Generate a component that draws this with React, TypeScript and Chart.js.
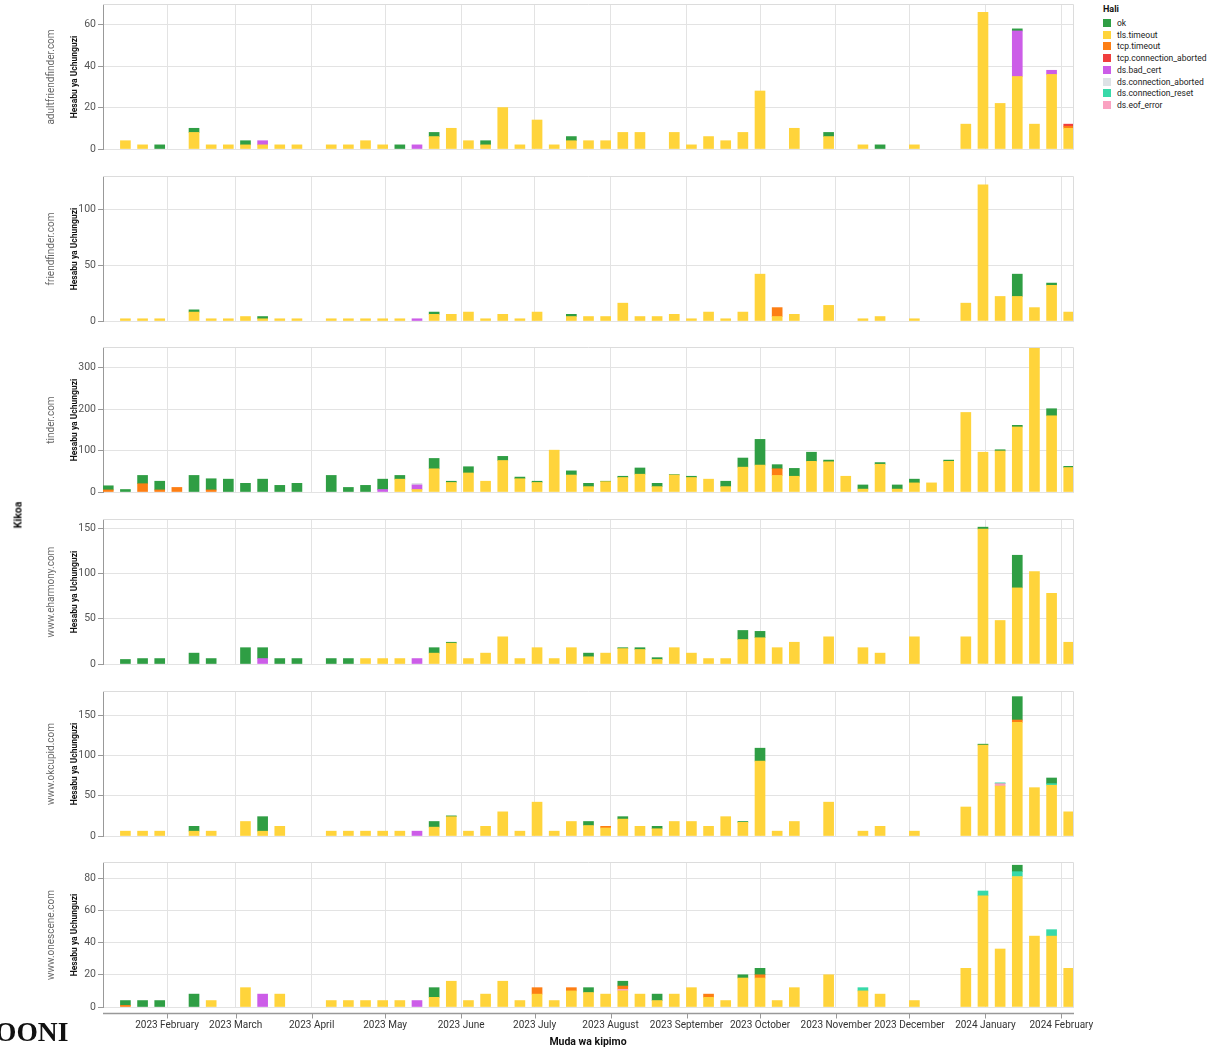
import React, { useEffect, useRef } from "react";
import { Chart, registerables } from "chart.js";

Chart.register(...registerables);

// ---------- categories ----------
const weeks = [
  "2023-01-08", "2023-01-15", "2023-01-22", "2023-01-29", "2023-02-05", "2023-02-12", "2023-02-19", "2023-02-26", "2023-03-05", "2023-03-12",
  "2023-03-19", "2023-03-26", "2023-04-02", "2023-04-09", "2023-04-16", "2023-04-23", "2023-04-30", "2023-05-07", "2023-05-14", "2023-05-21",
  "2023-05-28", "2023-06-04", "2023-06-11", "2023-06-18", "2023-06-25", "2023-07-02", "2023-07-09", "2023-07-16", "2023-07-23", "2023-07-30",
  "2023-08-06", "2023-08-13", "2023-08-20", "2023-08-27", "2023-09-03", "2023-09-10", "2023-09-17", "2023-09-24", "2023-10-01", "2023-10-08",
  "2023-10-15", "2023-10-22", "2023-10-29", "2023-11-05", "2023-11-12", "2023-11-19", "2023-11-26", "2023-12-03", "2023-12-10", "2023-12-17",
  "2023-12-24", "2023-12-31", "2024-01-07", "2024-01-14", "2024-01-21", "2024-01-28", "2024-02-04",
];

const monthTicks = [
  "2023-02-01", "2023-03-01", "2023-04-01", "2023-05-01", "2023-06-01", "2023-07-01", "2023-08-01",
  "2023-09-01", "2023-10-01", "2023-11-01", "2023-12-01", "2024-01-01", "2024-02-01",
];
const monthLabels = [
  "2023 February", "2023 March", "2023 April", "2023 May", "2023 June", "2023 July", "2023 August",
  "2023 September", "2023 October", "2023 November", "2023 December", "2024 January", "2024 February",
];

const domains = ["adultfriendfinder.com", "friendfinder.com", "tinder.com", "www.eharmony.com", "www.okcupid.com", "www.onescene.com"];
const yMax = [70, 130, 350, 160, 180, 90];
const yStep = [20, 50, 100, 50, 50, 20];

const statuses = ["ok", "tls.timeout", "tcp.timeout", "tcp.connection_aborted", "ds.bad_cert", "ds.connection_aborted", "ds.connection_reset", "ds.eof_error"];
const statusColors = ["#2f9e44", "#ffd43b", "#fd7e14", "#f03e3e", "#cc5de8", "#dee2e6", "#38d9a9", "#faa2c1"];
const stackOrder = ["tls.timeout", "ds.eof_error", "tcp.timeout", "tcp.connection_aborted", "ds.bad_cert", "ds.connection_aborted", "ds.connection_reset", "ok"];

// ---------- adultfriendfinder.com ----------
const afOk = [
  0, 0, 0, 2, 0, 2, 0, 0, 2, 0,
  0, 0, 0, 0, 0, 0, 0, 2, 0, 2,
  0, 0, 2, 0, 0, 0, 0, 2, 0, 0,
  0, 0, 0, 0, 0, 0, 0, 0, 0, 0,
  0, 0, 2, 0, 0, 2, 0, 0, 0, 0,
  0, 0, 0, 1, 0, 0, 0,
];
const afTls = [
  0, 4, 2, 0, 0, 8, 2, 2, 2, 2,
  2, 2, 0, 2, 2, 4, 2, 0, 0, 6,
  10, 4, 2, 20, 2, 14, 2, 4, 4, 4,
  8, 8, 0, 8, 2, 6, 4, 8, 28, 0,
  10, 0, 6, 0, 2, 0, 0, 2, 0, 0,
  12, 66, 22, 35, 12, 36, 10,
];
const afBadCert = [
  0, 0, 0, 0, 0, 0, 0, 0, 0, 2,
  0, 0, 0, 0, 0, 0, 0, 0, 2, 0,
  0, 0, 0, 0, 0, 0, 0, 0, 0, 0,
  0, 0, 0, 0, 0, 0, 0, 0, 0, 0,
  0, 0, 0, 0, 0, 0, 0, 0, 0, 0,
  0, 0, 0, 22, 0, 2, 0,
];
const afTcpTimeout = [
  0, 0, 0, 0, 0, 0, 0, 0, 0, 0,
  0, 0, 0, 0, 0, 0, 0, 0, 0, 0,
  0, 0, 0, 0, 0, 0, 0, 0, 0, 0,
  0, 0, 0, 0, 0, 0, 0, 0, 0, 0,
  0, 0, 0, 0, 0, 0, 0, 0, 0, 0,
  0, 0, 0, 0, 0, 0, 1,
];
const afTcpAborted = [
  0, 0, 0, 0, 0, 0, 0, 0, 0, 0,
  0, 0, 0, 0, 0, 0, 0, 0, 0, 0,
  0, 0, 0, 0, 0, 0, 0, 0, 0, 0,
  0, 0, 0, 0, 0, 0, 0, 0, 0, 0,
  0, 0, 0, 0, 0, 0, 0, 0, 0, 0,
  0, 0, 0, 0, 0, 0, 1,
];

// ---------- friendfinder.com ----------
const ffOk = [
  0, 0, 0, 0, 0, 2, 0, 0, 0, 2,
  0, 0, 0, 0, 0, 0, 0, 0, 0, 2,
  0, 0, 0, 0, 0, 0, 0, 2, 0, 0,
  0, 0, 0, 0, 0, 0, 0, 0, 0, 0,
  0, 0, 0, 0, 0, 0, 0, 0, 0, 0,
  0, 0, 0, 20, 0, 2, 0,
];
const ffTls = [
  0, 2, 2, 2, 0, 8, 2, 2, 4, 2,
  2, 2, 0, 2, 2, 2, 2, 2, 0, 6,
  6, 8, 2, 6, 2, 8, 0, 4, 4, 4,
  16, 4, 4, 6, 2, 8, 2, 8, 42, 4,
  6, 0, 14, 0, 2, 4, 0, 2, 0, 0,
  16, 122, 22, 22, 12, 32, 8,
];
const ffBadCert = [
  0, 0, 0, 0, 0, 0, 0, 0, 0, 0,
  0, 0, 0, 0, 0, 0, 0, 0, 2, 0,
  0, 0, 0, 0, 0, 0, 0, 0, 0, 0,
  0, 0, 0, 0, 0, 0, 0, 0, 0, 0,
  0, 0, 0, 0, 0, 0, 0, 0, 0, 0,
  0, 0, 0, 0, 0, 0, 0,
];
const ffTcpTimeout = [
  0, 0, 0, 0, 0, 0, 0, 0, 0, 0,
  0, 0, 0, 0, 0, 0, 0, 0, 0, 0,
  0, 0, 0, 0, 0, 0, 0, 0, 0, 0,
  0, 0, 0, 0, 0, 0, 0, 0, 0, 8,
  0, 0, 0, 0, 0, 0, 0, 0, 0, 0,
  0, 0, 0, 0, 0, 0, 0,
];

// ---------- tinder.com ----------
const tiOk = [
  10, 6, 20, 21, 0, 40, 27, 31, 21, 31,
  16, 21, 0, 40, 11, 16, 25, 9, 0, 25,
  3, 15, 0, 10, 4, 3, 0, 10, 8, 1,
  3, 15, 8, 1, 3, 0, 13, 22, 62, 10,
  19, 22, 4, 0, 10, 4, 10, 9, 0, 3,
  0, 0, 3, 4, 3, 17, 3,
];
const tiTls = [
  0, 0, 0, 0, 0, 0, 0, 0, 0, 0,
  0, 0, 0, 0, 0, 0, 0, 31, 6, 56,
  23, 46, 26, 76, 32, 23, 101, 41, 13, 25,
  35, 43, 13, 41, 35, 31, 13, 60, 65, 40,
  38, 74, 73, 38, 7, 67, 7, 22, 22, 74,
  192, 96, 99, 157, 348, 184, 59,
];
const tiTcpTimeout = [
  5, 0, 20, 5, 11, 0, 5, 0, 0, 0,
  0, 0, 0, 0, 0, 0, 0, 0, 0, 0,
  0, 0, 0, 0, 0, 0, 0, 0, 0, 0,
  0, 0, 0, 0, 0, 0, 0, 0, 0, 16,
  0, 0, 0, 0, 0, 0, 0, 0, 0, 0,
  0, 0, 0, 0, 0, 0, 0,
];
const tiBadCert = [
  0, 0, 0, 0, 0, 0, 0, 0, 0, 0,
  0, 0, 0, 0, 0, 0, 6, 0, 11, 0,
  0, 0, 0, 0, 0, 0, 0, 0, 0, 0,
  0, 0, 0, 0, 0, 0, 0, 0, 0, 0,
  0, 0, 0, 0, 0, 0, 0, 0, 0, 0,
  0, 0, 0, 0, 0, 0, 0,
];
const tiDsAborted = [
  0, 0, 0, 0, 0, 0, 0, 0, 0, 0,
  0, 0, 0, 0, 0, 0, 0, 0, 4, 0,
  0, 0, 0, 0, 0, 0, 0, 0, 0, 0,
  0, 0, 0, 0, 0, 0, 0, 0, 0, 0,
  0, 0, 0, 0, 0, 0, 0, 0, 0, 0,
  0, 0, 0, 0, 0, 0, 0,
];

// ---------- www.eharmony.com ----------
const ehOk = [
  0, 5, 6, 6, 0, 12, 6, 0, 18, 12,
  6, 6, 0, 6, 6, 0, 0, 0, 0, 6,
  1, 0, 0, 0, 0, 0, 0, 0, 4, 0,
  1, 2, 2, 0, 0, 0, 0, 10, 7, 0,
  0, 0, 0, 0, 0, 0, 0, 0, 0, 0,
  0, 2, 0, 36, 0, 0, 0,
];
const ehTls = [
  0, 0, 0, 0, 0, 0, 0, 0, 0, 0,
  0, 0, 0, 0, 0, 6, 6, 6, 0, 12,
  23, 6, 12, 30, 6, 18, 6, 18, 8, 12,
  17, 16, 5, 18, 12, 6, 6, 27, 29, 18,
  24, 0, 30, 0, 18, 12, 0, 30, 0, 0,
  30, 149, 48, 84, 102, 78, 24,
];
const ehBadCert = [
  0, 0, 0, 0, 0, 0, 0, 0, 0, 6,
  0, 0, 0, 0, 0, 0, 0, 0, 6, 0,
  0, 0, 0, 0, 0, 0, 0, 0, 0, 0,
  0, 0, 0, 0, 0, 0, 0, 0, 0, 0,
  0, 0, 0, 0, 0, 0, 0, 0, 0, 0,
  0, 0, 0, 0, 0, 0, 0,
];

// ---------- www.okcupid.com ----------
const okOk = [
  0, 0, 0, 0, 0, 6, 0, 0, 0, 18,
  0, 0, 0, 0, 0, 0, 0, 0, 0, 7,
  1, 0, 0, 0, 0, 0, 0, 0, 5, 0,
  3, 0, 3, 0, 0, 0, 0, 1, 16, 0,
  0, 0, 0, 0, 0, 0, 0, 0, 0, 0,
  0, 1, 0, 29, 0, 7, 0,
];
const okTls = [
  0, 6, 6, 6, 0, 6, 6, 0, 18, 6,
  12, 0, 0, 6, 6, 6, 6, 6, 0, 11,
  24, 6, 12, 30, 6, 42, 6, 18, 13, 10,
  21, 12, 9, 18, 18, 12, 24, 17, 93, 6,
  18, 0, 42, 0, 6, 12, 0, 6, 0, 0,
  36, 113, 62, 141, 60, 63, 30,
];
const okTcpTimeout = [
  0, 0, 0, 0, 0, 0, 0, 0, 0, 0,
  0, 0, 0, 0, 0, 0, 0, 0, 0, 0,
  0, 0, 0, 0, 0, 0, 0, 0, 0, 2,
  0, 0, 0, 0, 0, 0, 0, 0, 0, 0,
  0, 0, 0, 0, 0, 0, 0, 0, 0, 0,
  0, 0, 0, 3, 0, 0, 0,
];
const okBadCert = [
  0, 0, 0, 0, 0, 0, 0, 0, 0, 0,
  0, 0, 0, 0, 0, 0, 0, 0, 6, 0,
  0, 0, 0, 0, 0, 0, 0, 0, 0, 0,
  0, 0, 0, 0, 0, 0, 0, 0, 0, 0,
  0, 0, 0, 0, 0, 0, 0, 0, 0, 0,
  0, 0, 0, 0, 0, 0, 0,
];
const okDsReset = [
  0, 0, 0, 0, 0, 0, 0, 0, 0, 0,
  0, 0, 0, 0, 0, 0, 0, 0, 0, 0,
  0, 0, 0, 0, 0, 0, 0, 0, 0, 0,
  0, 0, 0, 0, 0, 0, 0, 0, 0, 0,
  0, 0, 0, 0, 0, 0, 0, 0, 0, 0,
  0, 0, 1, 0, 0, 2, 0,
];
const okEof = [
  0, 0, 0, 0, 0, 0, 0, 0, 0, 0,
  0, 0, 0, 0, 0, 0, 0, 0, 0, 0,
  0, 0, 0, 0, 0, 0, 0, 0, 0, 0,
  0, 0, 0, 0, 0, 0, 0, 0, 0, 0,
  0, 0, 0, 0, 0, 0, 0, 0, 0, 0,
  0, 0, 3, 0, 0, 0, 0,
];

// ---------- www.onescene.com ----------
const osOk = [
  0, 3, 4, 4, 0, 8, 0, 0, 0, 0,
  0, 0, 0, 0, 0, 0, 0, 0, 0, 6,
  0, 0, 0, 0, 0, 0, 0, 0, 3, 0,
  3, 0, 4, 0, 0, 0, 0, 2, 4, 0,
  0, 0, 0, 0, 0, 0, 0, 0, 0, 0,
  0, 0, 0, 4, 0, 0, 0,
];
const osTls = [
  0, 0, 0, 0, 0, 0, 4, 0, 12, 0,
  8, 0, 0, 4, 4, 4, 4, 4, 0, 6,
  16, 4, 8, 16, 4, 8, 4, 10, 9, 8,
  10, 8, 4, 8, 12, 6, 4, 18, 18, 4,
  12, 0, 20, 0, 10, 8, 0, 4, 0, 0,
  24, 69, 36, 81, 44, 44, 24,
];
const osTcpTimeout = [
  0, 1, 0, 0, 0, 0, 0, 0, 0, 0,
  0, 0, 0, 0, 0, 0, 0, 0, 0, 0,
  0, 0, 0, 0, 0, 4, 0, 2, 0, 0,
  2, 0, 0, 0, 0, 2, 0, 0, 2, 0,
  0, 0, 0, 0, 0, 0, 0, 0, 0, 0,
  0, 0, 0, 0, 0, 0, 0,
];
const osBadCert = [
  0, 0, 0, 0, 0, 0, 0, 0, 0, 8,
  0, 0, 0, 0, 0, 0, 0, 0, 4, 0,
  0, 0, 0, 0, 0, 0, 0, 0, 0, 0,
  0, 0, 0, 0, 0, 0, 0, 0, 0, 0,
  0, 0, 0, 0, 0, 0, 0, 0, 0, 0,
  0, 0, 0, 0, 0, 0, 0,
];
const osDsReset = [
  0, 0, 0, 0, 0, 0, 0, 0, 0, 0,
  0, 0, 0, 0, 0, 0, 0, 0, 0, 0,
  0, 0, 0, 0, 0, 0, 0, 0, 0, 0,
  0, 0, 0, 0, 0, 0, 0, 0, 0, 0,
  0, 0, 0, 0, 2, 0, 0, 0, 0, 0,
  0, 3, 0, 3, 0, 4, 0,
];
const osEof = [
  0, 0, 0, 0, 0, 0, 0, 0, 0, 0,
  0, 0, 0, 0, 0, 0, 0, 0, 0, 0,
  0, 0, 0, 0, 0, 0, 0, 0, 0, 0,
  1, 0, 0, 0, 0, 0, 0, 0, 0, 0,
  0, 0, 0, 0, 0, 0, 0, 0, 0, 0,
  0, 0, 0, 0, 0, 0, 0,
];

const panelData: Record<string, number[]>[] = [
  { "ok": afOk, "tls.timeout": afTls, "ds.bad_cert": afBadCert, "tcp.timeout": afTcpTimeout, "tcp.connection_aborted": afTcpAborted },
  { "ok": ffOk, "tls.timeout": ffTls, "ds.bad_cert": ffBadCert, "tcp.timeout": ffTcpTimeout },
  { "ok": tiOk, "tls.timeout": tiTls, "tcp.timeout": tiTcpTimeout, "ds.bad_cert": tiBadCert, "ds.connection_aborted": tiDsAborted },
  { "ok": ehOk, "tls.timeout": ehTls, "ds.bad_cert": ehBadCert },
  { "ok": okOk, "tls.timeout": okTls, "tcp.timeout": okTcpTimeout, "ds.bad_cert": okBadCert, "ds.connection_reset": okDsReset, "ds.eof_error": okEof },
  { "ok": osOk, "tls.timeout": osTls, "tcp.timeout": osTcpTimeout, "ds.bad_cert": osBadCert, "ds.connection_reset": osDsReset, "ds.eof_error": osEof },
];

// ---------- layout ----------
const PANEL_TOPS = [4, 176, 347, 519, 691, 862];
const PANEL_H = 145;
const PLOT_LEFT = 103;
const PLOT_RIGHT = 1074;
const CANVAS_W = 1100;
const PAD_RIGHT = CANVAS_W - PLOT_RIGHT;
const PAD_TOP = 6;
const FONT = "Roboto, 'Noto Sans', sans-serif";
const GRID = "#e3e3e3";

const toDay = (s: string) => Date.parse(s + "T00:00:00Z") / 86400000;
const xMin = toDay(weeks[0]) - 2.15;
const xMax = toDay(weeks[weeks.length - 1]) + 2.15;

function canvasHeight(k: number) {
  return PAD_TOP + PANEL_H + (k === 5 ? 30 : 8);
}

const framePlugin = (isLast: boolean) => ({
  id: "frame" + (isLast ? "Last" : ""),
  afterDraw(chart: any) {
    const { ctx, chartArea } = chart;
    ctx.save();
    ctx.strokeStyle = "#dcdcdc";
    ctx.lineWidth = 1;
    ctx.beginPath();
    ctx.moveTo(chartArea.left, chartArea.top + 0.5);
    ctx.lineTo(chartArea.right - 0.5, chartArea.top + 0.5);
    ctx.lineTo(chartArea.right - 0.5, chartArea.bottom);
    ctx.stroke();
    if (isLast) {
      const y = chartArea.bottom + 6.5;
      ctx.strokeStyle = "#999";
      ctx.lineWidth = 1.5;
      ctx.beginPath();
      ctx.moveTo(chartArea.left, y);
      ctx.lineTo(chartArea.right, y);
      ctx.stroke();
      ctx.lineWidth = 1;
      const xs = chart.scales.x;
      monthTicks.forEach((m) => {
        const px = Math.round(xs.getPixelForValue(toDay(m))) + 0.5;
        ctx.beginPath();
        ctx.moveTo(px, y);
        ctx.lineTo(px, y + 5);
        ctx.stroke();
      });
    }
    ctx.restore();
  },
});

function makeChart(canvas: HTMLCanvasElement, k: number) {
  const isLast = k === 5;
  const data = panelData[k];
  const datasets = stackOrder
    .filter((s) => data[s])
    .map((s) => ({
      label: s,
      data: weeks.map((w, i) => ({ x: toDay(w), y: data[s][i] === 0 ? null : data[s][i] })),
      backgroundColor: statusColors[statuses.indexOf(s)],
      borderWidth: 0,
      barThickness: 10,
    }));
  return new Chart(canvas, {
    type: "bar",
    data: { datasets } as any,
    options: {
      animation: false,
      responsive: false,
      maintainAspectRatio: false,
      events: [],
      layout: { padding: { top: PAD_TOP, right: PAD_RIGHT, bottom: isLast ? 0 : 8, left: 0 } },
      plugins: { legend: { display: false }, tooltip: { enabled: false } },
      scales: {
        x: {
          type: "linear",
          stacked: true,
          offset: false,
          min: xMin,
          max: xMax,
          afterBuildTicks: (s: any) => {
            s.ticks = monthTicks.map((m) => ({ value: toDay(m) }));
          },
          afterFit: (s: any) => {
            s.height = isLast ? 30 : 0;
            s.paddingLeft = 0;
            s.paddingRight = 0;
            s.paddingTop = 0;
            s.paddingBottom = 0;
          },
          grid: { color: GRID, drawTicks: false, offset: false },
          border: { display: false },
          ticks: {
            display: isLast,
            autoSkip: false,
            maxRotation: 0,
            padding: 12,
            color: "#333",
            font: { family: FONT, size: 10 },
            callback: (_v: any, i: number) => monthLabels[i],
          },
        },
        y: {
          type: "linear",
          stacked: true,
          min: 0,
          max: yMax[k],
          afterFit: (s: any) => {
            s.width = PLOT_LEFT;
            s.paddingTop = 0;
            s.paddingBottom = 0;
          },
          grid: { color: GRID, tickLength: 5, tickColor: "#999" },
          border: { display: true, color: "#999" },
          ticks: {
            stepSize: yStep[k],
            includeBounds: false,
            padding: 2,
            color: "#555",
            font: { family: FONT, size: 10.5 },
          },
        },
      },
    } as any,
    plugins: [framePlugin(isLast)],
  });
}

const rot: React.CSSProperties = {
  position: "absolute",
  whiteSpace: "nowrap",
  transform: "translate(-50%, -50%) rotate(-90deg)",
};

export default function App() {
  const refs = useRef<(HTMLCanvasElement | null)[]>([]);

  useEffect(() => {
    const charts = refs.current.map((c, k) => (c ? makeChart(c, k) : null));
    return () => {
      charts.forEach((ch) => ch && ch.destroy());
    };
  }, []);

  return (
    <div
      style={{
        position: "absolute",
        left: 0,
        top: 0,
        width: 1216,
        height: 1050,
        background: "#fff",
        overflow: "hidden",
        fontFamily: FONT,
      }}
    >
      {domains.map((d, k) => (
        <canvas
          key={d}
          ref={(el) => {
            refs.current[k] = el;
          }}
          width={CANVAS_W}
          height={canvasHeight(k)}
          style={{ position: "absolute", left: 0, top: PANEL_TOPS[k] - PAD_TOP, width: CANVAS_W, height: canvasHeight(k) }}
        />
      ))}

      {domains.map((d, k) => (
        <React.Fragment key={"lab" + d}>
          <div style={{ ...rot, left: 50, top: PANEL_TOPS[k] + PANEL_H / 2, fontSize: 10, color: "#666" }}>{d}</div>
          <div style={{ ...rot, left: 74, top: PANEL_TOPS[k] + PANEL_H / 2, fontSize: 8.5, fontWeight: 700, color: "#111" }}>
            Hesabu ya Uchunguzi
          </div>
        </React.Fragment>
      ))}

      <div style={{ ...rot, left: 18, top: 515, fontSize: 10.5, fontWeight: 700, color: "#111" }}>Kikoa</div>

      <div
        style={{
          position: "absolute",
          left: 588,
          top: 1041,
          transform: "translate(-50%, -50%)",
          fontSize: 10.5,
          fontWeight: 700,
          color: "#111",
          whiteSpace: "nowrap",
        }}
      >
        Muda wa kipimo
      </div>

      {/* legend */}
      <div style={{ position: "absolute", left: 1103, top: 4, fontSize: 9, fontWeight: 700, color: "#111" }}>Hali</div>
      {statuses.map((s, i) => (
        <div key={s} style={{ position: "absolute", left: 1103, top: 18 + i * 11.7, height: 10, display: "flex", alignItems: "center" }}>
          <div style={{ width: 8, height: 8, background: statusColors[i], marginRight: 6 }} />
          <div style={{ fontSize: 8.5, color: "#222", whiteSpace: "nowrap", lineHeight: "10px" }}>{s}</div>
        </div>
      ))}

      <div
        style={{
          position: "absolute",
          left: -5,
          top: 1018,
          fontFamily: "'Liberation Serif', 'DejaVu Serif', serif",
          fontWeight: 700,
          fontSize: 27.5,
          lineHeight: "28px",
          color: "#111",
          whiteSpace: "nowrap",
        }}
      >
        OONI
      </div>
    </div>
  );
}
